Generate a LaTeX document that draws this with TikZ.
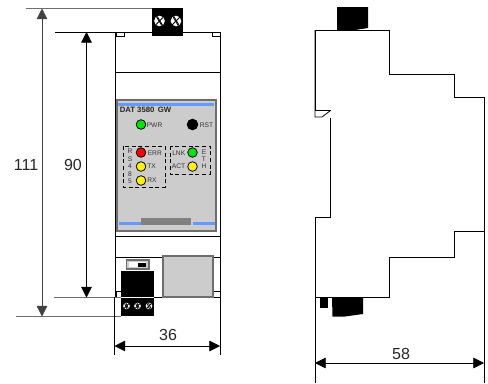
\documentclass[tikz,border=0pt]{standalone}
\usepackage{fontspec}
\setmainfont{Liberation Sans}
\usetikzlibrary{arrows.meta}
\definecolor{panelgray}{RGB}{204,204,204}
\definecolor{edgegray}{RGB}{110,110,110}
\definecolor{stripe}{RGB}{102,153,255}
\tikzset{
  body/.style={draw=black,line width=0.6pt,fill=white},
  ext/.style={draw=black,line width=0.6pt},
  extg/.style={draw=edgegray,line width=0.8pt},
  dim/.style={draw=black,line width=0.6pt,{Triangle[length=8pt,width=8pt]}-{Triangle[length=8pt,width=8pt]}},
  dimg/.style={dim,draw=edgegray!60!black},
  dimtext/.style={font=\fontsize{12pt}{14pt}\selectfont,inner sep=0pt,text=black!85},
  led/.style={circle,draw=black,line width=0.6pt,minimum size=7.2pt,inner sep=0pt},
  ledlabel/.style={font=\fontsize{5pt}{6pt}\selectfont,inner sep=0pt,text=black!80},
  screw/.style={circle,fill=white,inner sep=0pt,minimum size=#1,path picture={
     \draw[black,line width=0.6pt] (path picture bounding box.south west)--(path picture bounding box.north east);
     \draw[black,line width=0.6pt] ([xshift=-2pt]path picture bounding box.south east)--([yshift=2pt]path picture bounding box.north west);
     \draw[black,line width=0.6pt] ([xshift=2pt]path picture bounding box.north west)--([yshift=-2pt]path picture bounding box.south east);}},
  zone/.style={draw=black,densely dashed,line width=0.6pt},
}
\begin{document}
\begin{tikzpicture}[x=0.75pt,y=-0.75pt]
\useasboundingbox (0,0) rectangle (488,383);
% front body
\draw[body] (115.5,32) rectangle (220,297);
\draw[ext] (115.5,72) -- (220,72);
\draw[ext] (115.5,236) -- (220,236);
\draw[ext] (115.5,257) -- (220,257);
\draw[ext] (116,32) rectangle (124,36);
\draw[ext] (212,32) rectangle (220,36);
\draw[ext] (116,291.5) rectangle (121,297);
\draw[ext] (213,291.5) rectangle (220,297);
% panel
\draw[draw=edgegray,line width=0.9pt,fill=panelgray] (117,100) rectangle (216,231);
\fill[stripe] (118,103) rectangle (214,106);
\fill[stripe] (119,222) rectangle (141,224.5);
\fill[stripe] (193,222) rectangle (215,224.5);
\fill[black!50] (141,218) rectangle (191,225);
\node[anchor=west,inner sep=0pt,font=\fontsize{5.8pt}{6.5pt}\selectfont\bfseries,text=black!85] (title) at (119.5,110) {DAT 3580\, GW};
% LEDs
\node[led,fill=green!90!black] (pwr) at (141,124.5) {};
\node[led,fill=black,minimum size=8pt] (rst) at (192.5,124.5) {};
\node[led,fill=red] (err) at (141,152.5) {};
\node[led,fill=yellow] (tx) at (141,166.5) {};
\node[led,fill=yellow] (rx) at (141,180.5) {};
\node[led,fill=green!90!black] (lnk) at (192.5,152.5) {};
\node[led,fill=yellow] (act) at (192.5,166.5) {};
\node[ledlabel,anchor=west] (lpwr) at (146.5,125) {PWR};
\node[ledlabel,anchor=west] (lrst) at (199.5,125) {RST};
\node[ledlabel,anchor=west] (lerr) at (147.5,153) {ERR};
\node[ledlabel,anchor=west] (ltx) at (147,166.5) {TX};
\node[ledlabel,anchor=west] (lrx) at (147,180.5) {RX};
\node[ledlabel,anchor=east] (llnk) at (185.5,153) {LNK};
\node[ledlabel,anchor=east] (lact) at (185.5,166.5) {ACT};
\node[ledlabel] (r1) at (130,151) {R};
\node[ledlabel] (r2) at (130,159.5) {S};
\node[ledlabel] (r3) at (130,166.5) {4};
\node[ledlabel] (r4) at (130,174) {8};
\node[ledlabel] (r5) at (130,181.5) {5};
\node[ledlabel] (e1) at (204,152.5) {E};
\node[ledlabel] (e2) at (204,159.5) {T};
\node[ledlabel] (e3) at (204,166.5) {H};
\draw[zone] (123,146) rectangle (165,187);
\draw[zone] (170,146) rectangle (210,174);
% top connector
\fill[black] (152,8) rectangle (183,36);
\node[screw=8pt] (s1) at (159.5,21) {};
\node[screw=8pt] (s2) at (176,21) {};
% bottom block
\draw[draw=edgegray,line width=0.9pt,fill=panelgray] (163,256) rectangle (213,297);
\draw[draw=edgegray,line width=0.9pt,fill=panelgray] (126.5,260) rectangle (149,269);
\fill[white] (129,262) rectangle (146,267);
\fill[black] (138,262.5) rectangle (146,266.5);
\fill[black] (121,271) rectangle (154,316);
\draw[white,line width=0.5pt] (121,297) -- (154,297);
\node[screw=5pt] (s3) at (126.5,306) {};
\node[screw=5pt] (s4) at (137.5,306) {};
\node[screw=5pt] (s5) at (149,306) {};
% side view
\draw[body] (315,30) -- (389.5,30) -- (389.5,74) -- (454,74) -- (454,97) -- (484,97) -- (484,231) -- (454,231) -- (454,257) -- (389.5,257) -- (389.5,297.5) -- (315,297.5) -- (315,217.5) -- (330.5,217.5) -- (330.5,110.5) -- (315,110.5) -- cycle;
\draw[draw=white,fill=white] (315.4,110.9) rectangle (330,117);
\draw[ext] (315,30) -- (315,117) -- (322,117) -- (330.5,110.5);
\fill[black] (337,7) -- (368,7) -- (368,28) -- (355,30) -- (337,30) -- cycle;
\fill[black] (320,297.5) rectangle (328,308);
\fill[black] (332,297.5) -- (363,297.5) -- (363,314) -- (345,316.5) -- (332.5,316.5) -- cycle;
% extension lines and dimensions
\coordinate (a1) at (26,8.5);
\coordinate (a2) at (152,8.5);
\coordinate (b1) at (55,32);
\coordinate (b2) at (115.5,32);
\coordinate (c1) at (54,297.5);
\coordinate (c2) at (121,297.5);
\coordinate (d1) at (16,316.5);
\coordinate (d2) at (121,316.5);
\draw[extg] (a1) -- (a2);
\draw[ext] (b1) -- (b2);
\draw[extg] (c1) -- (c2);
\draw[extg] (d1) -- (d2);
\coordinate (dt) at (42,8.5);
\coordinate (db) at (42,316.5);
\coordinate (nt) at (86.5,32);
\coordinate (nb) at (86.5,297.5);
\draw[dimg] (dt) -- (db);
\draw[dim] (nt) -- (nb);
\node[dimtext] (l111) at (26,165) {111};
\node[dimtext] (l90) at (73,165) {90};
\coordinate (e1a) at (114.5,297);
\coordinate (e1b) at (114.5,355);
\coordinate (e2a) at (220,297);
\coordinate (e2b) at (220,355);
\draw[ext] (e1a) -- (e1b);
\draw[ext] (e2a) -- (e2b);
\coordinate (w1) at (114.5,346);
\coordinate (w2) at (220,346);
\draw[dim] (w1) -- (w2);
\node[dimtext] (l36) at (168,335) {36};
\coordinate (f1a) at (315,297.5);
\coordinate (f1b) at (315,383);
\coordinate (f2a) at (484,231);
\coordinate (f2b) at (484,383);
\draw[ext] (f1a) -- (f1b);
\draw[ext] (f2a) -- (f2b);
\coordinate (g1) at (315,363);
\coordinate (g2) at (484,363);
\draw[dim] (g1) -- (g2);
\node[dimtext] (l58) at (401,354) {58};
\end{tikzpicture}
\end{document}
